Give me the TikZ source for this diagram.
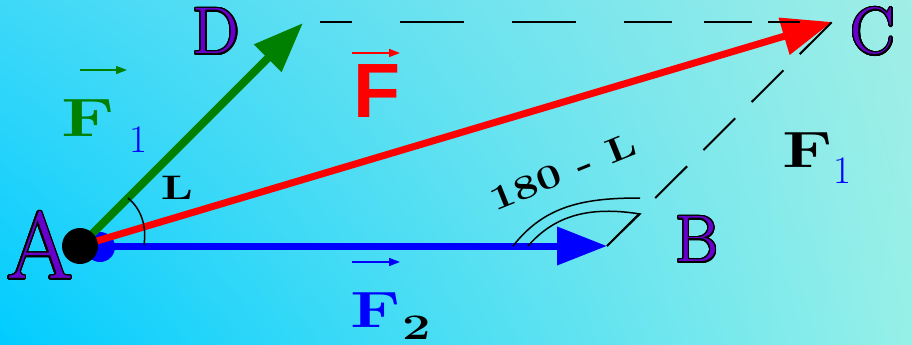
\documentclass[tikz,border=0pt]{standalone}
\usepackage{fontspec}
\usepackage{graphicx}
\usepackage[copies]{contour}
\usetikzlibrary{arrows.meta,shadings}

\newfontfamily\vecsans{Liberation Sans}
\contourlength{1.4pt}
\contournumber{24}

\definecolor{ptpurple}{RGB}{104,0,204}
\definecolor{fgreen}{RGB}{0,128,0}
\definecolor{bgll}{RGB}{0,204,255}
\definecolor{bgul}{RGB}{62,216,248}
\definecolor{bgur}{RGB}{160,238,230}
\definecolor{bglr}{RGB}{150,240,232}

\newcommand{\wide}[1]{\scalebox{1.4}[1]{#1}}

\begin{document}
\begin{tikzpicture}[x=1pt,y=-1pt,
    vec/.style={line width=7pt, -{Triangle[length=50pt,width=37pt]}},
    overarrow/.style={line width=1.6pt, -{Triangle[length=11pt,width=8pt]}},
    guide/.style={line width=2pt},
    angarc/.style={line width=1.5pt},
    vertex/.style={inner sep=0pt, text=ptpurple, font=\fontsize{66}{66}\selectfont},
    flabel/.style={inner sep=0pt, font=\fontsize{51}{51}\selectfont\bfseries},
    sublabel/.style={inner sep=0pt, font=\fontsize{39}{39}\selectfont}
]

% background
\shade[lower left=bgll, upper left=bgul, upper right=bgur, lower right=bglr]
    (0,0) rectangle (912,345);
\useasboundingbox (0,0) rectangle (912,345);

% corner points of the parallelogram
\coordinate (A) at (80,246);
\coordinate (B) at (607,246);
\coordinate (C) at (832,22);
\coordinate (D) at (303,23);
\coordinate (Dd) at (320,22);

% force vectors
\draw[vec, blue] (A) -- (B);
\fill[blue] (100,247) circle[radius=15];
\draw[vec, fgreen, line width=8pt] (A) -- (D);
\draw[vec, red] (A) -- (C);
\fill[black] (A) circle[radius=18];

% dashed sides
\draw[guide, dash pattern=on 32pt off 48pt on 64pt off 48pt on 64pt off 48pt on 48pt off 32pt on 48pt off 16pt on 32pt] (Dd) -- (C);
\draw[guide, dash pattern=on 45pt off 23pt] (B) -- (C);

% angle marks
\draw[angarc] (128,198) .. controls (140,208) and (147,224) .. (144,245);
\draw[angarc] (513,246) .. controls (545,205) and (585,198) .. (640,198);
\draw[angarc] (528,246) .. controls (555,215) and (590,206) .. (640,214) -- (B);

% vertex labels
\node[vertex, font=\fontsize{95}{95}\selectfont] (labA) at (40,246) {\contour{black}{A}};
\node[vertex] (labB) at (697,240) {\contour{black}{B}};
\node[vertex] (labC) at (873,32) {\contour{black}{C}};
\node[vertex] (labD) at (216,32) {\contour{black}{D}};

% resultant F
\node[inner sep=0pt, text=red, font=\fontsize{77}{77}\selectfont\vecsans\bfseries] (labF) at (377,91) {F};
\coordinate (arF1) at (352,53);
\coordinate (arF2) at (400,53);
\draw[overarrow, red] (arF1) -- (arF2);

% F1 along AD
\node[flabel, text=fgreen, font=\fontsize{54}{54}\selectfont\bfseries] (labFa) at (88,118) {\wide{F}};
\node[sublabel, text=blue] (subFa) at (138,140) {1};
\coordinate (arFa1) at (80,70);
\coordinate (arFa2) at (127,70);
\draw[overarrow, fgreen] (arFa1) -- (arFa2);

% F1 along BC
\node[flabel, text=black] (labFb) at (808,150) {\wide{F}};
\node[sublabel, text=blue] (subFb) at (842,171) {1};

% F2 along AB
\node[flabel, text=blue] (labFc) at (376,310) {\wide{F}};
\node[sublabel, text=black, font=\fontsize{36}{36}\selectfont\bfseries] (subFc) at (417,328) {\wide{2}};
\coordinate (arFc1) at (352,262);
\coordinate (arFc2) at (400,262);
\draw[overarrow, blue] (arFc1) -- (arFc2);

% angle labels
\node[inner sep=0pt, font=\fontsize{34}{34}\selectfont\bfseries] (labL) at (177,188) {\wide{L}};
\node[inner sep=0pt, font=\fontsize{34}{34}\selectfont\bfseries, rotate=22] (labBang) at (563,172) {\scalebox{1.3}[1]{180 - L}};

\end{tikzpicture}
\end{document}
